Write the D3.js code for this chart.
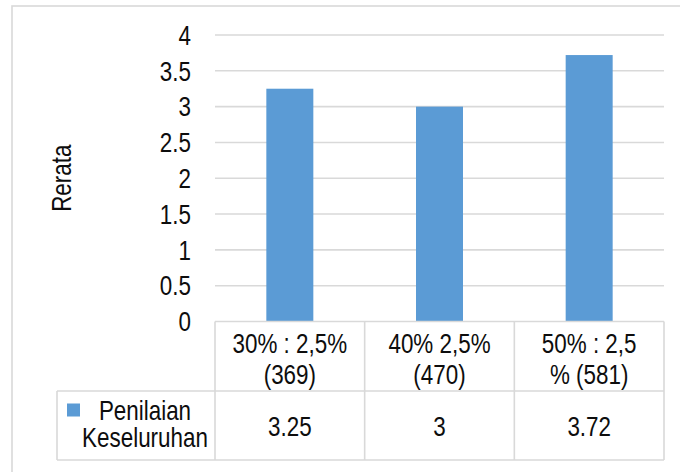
<!DOCTYPE html>
<html>
<head>
<meta charset="utf-8">
<script src="https://cdn.jsdelivr.net/npm/d3@7"></script>
<style>
  html, body { margin: 0; padding: 0; background: #fff; }
  svg { display: block; }
  text { font-family: "Liberation Sans", Arial, sans-serif; fill: #0d0d0d; }
</style>
</head>
<body>
<svg id="chart" width="680" height="472"></svg>
<script>
// Category labels (each entry is the two lines shown in the data table header)
const categories = [
  ["30% : 2,5%", "(369)"],
  ["40% 2,5%", "(470)"],
  ["50% : 2,5", "% (581)"]
];
const seriesName = ["Penilaian", "Keseluruhan"];
const values = [3.25, 3, 3.72];
const yTicks = [0, 0.5, 1, 1.5, 2, 2.5, 3, 3.5, 4];
const yTitle = "Rerata";

const FONT = 27;        // label size
const SX = 0.83;        // horizontal squeeze for the narrow face
const GRID = "#D9D9D9";
const BAR = "#5B9BD5";

const svg = d3.select("#chart");

// chart area frame
svg.append("rect")
  .attr("x", 12).attr("y", 6)
  .attr("width", 700).attr("height", 500)
  .attr("fill", "#fff")
  .attr("stroke", GRID).attr("stroke-width", 1.6);

const plot = { left: 215, right: 664, top: 35, bottom: 321.5 };

const y = d3.scaleLinear().domain([0, 4]).range([plot.bottom, plot.top]);
const xCol = d3.scaleBand().domain(d3.range(categories.length))
  .range([plot.left, plot.right]).padding(0);
const xBar = d3.scaleBand().domain(d3.range(categories.length))
  .range([plot.left, plot.right]).paddingInner(0.686).paddingOuter(0.343);

// condensed text helper
function label(parent, x, yy, str, anchor, rotate) {
  return parent.append("text")
    .attr("transform", `translate(${x},${yy})${rotate ? " rotate(" + rotate + ")" : ""} scale(${SX},1)`)
    .attr("text-anchor", anchor || "middle")
    .attr("dy", "0.36em")
    .attr("font-size", FONT)
    .text(str);
}

// horizontal gridlines
svg.append("g").selectAll("line").data(yTicks.filter(d => d > 0)).join("line")
  .attr("x1", plot.left).attr("x2", plot.right)
  .attr("y1", d => y(d)).attr("y2", d => y(d))
  .attr("stroke", GRID).attr("stroke-width", 1.6);

// y tick labels
const yAxisG = svg.append("g");
yTicks.forEach(d => label(yAxisG, 191, y(d), String(d), "end"));

// y title
label(svg, 61.5, (plot.top + plot.bottom) / 2, yTitle, "middle", -90);

// bars
svg.append("g").selectAll("rect").data(values).join("rect")
  .attr("x", (d, i) => xBar(i))
  .attr("width", xBar.bandwidth())
  .attr("y", d => y(d))
  .attr("height", d => y(0) - y(d))
  .attr("fill", BAR);

// data table
const rowTop = plot.bottom, rowMid = 391, rowBot = 460;
const legendLeft = 57;
const tbl = svg.append("g")
  .attr("stroke", GRID).attr("stroke-width", 1.6).attr("fill", "none");

tbl.append("line").attr("x1", plot.left).attr("x2", plot.right).attr("y1", rowTop).attr("y2", rowTop);
tbl.append("line").attr("x1", legendLeft).attr("x2", plot.right).attr("y1", rowMid).attr("y2", rowMid);
tbl.append("line").attr("x1", legendLeft).attr("x2", plot.right).attr("y1", rowBot).attr("y2", rowBot);
tbl.append("line").attr("x1", legendLeft).attr("x2", legendLeft).attr("y1", rowMid).attr("y2", rowBot);
d3.range(categories.length + 1).forEach(i => {
  const x = i < categories.length ? xCol(i) : plot.right;
  tbl.append("line").attr("x1", x).attr("x2", x).attr("y1", rowTop).attr("y2", rowBot);
});

const textG = svg.append("g");
categories.forEach((lines, i) => {
  const cx = xCol(i) + xCol.bandwidth() / 2;
  label(textG, cx, 343.5, lines[0]);
  label(textG, cx, 374.5, lines[1]);
  label(textG, cx, 426, String(values[i]));
});

// legend key + series name
svg.append("rect")
  .attr("x", 67).attr("y", 403.5).attr("width", 13).attr("height", 13)
  .attr("fill", BAR);
label(textG, 145, 410.5, seriesName[0]);
label(textG, 145, 437.5, seriesName[1]);
</script>
</body>
</html>
